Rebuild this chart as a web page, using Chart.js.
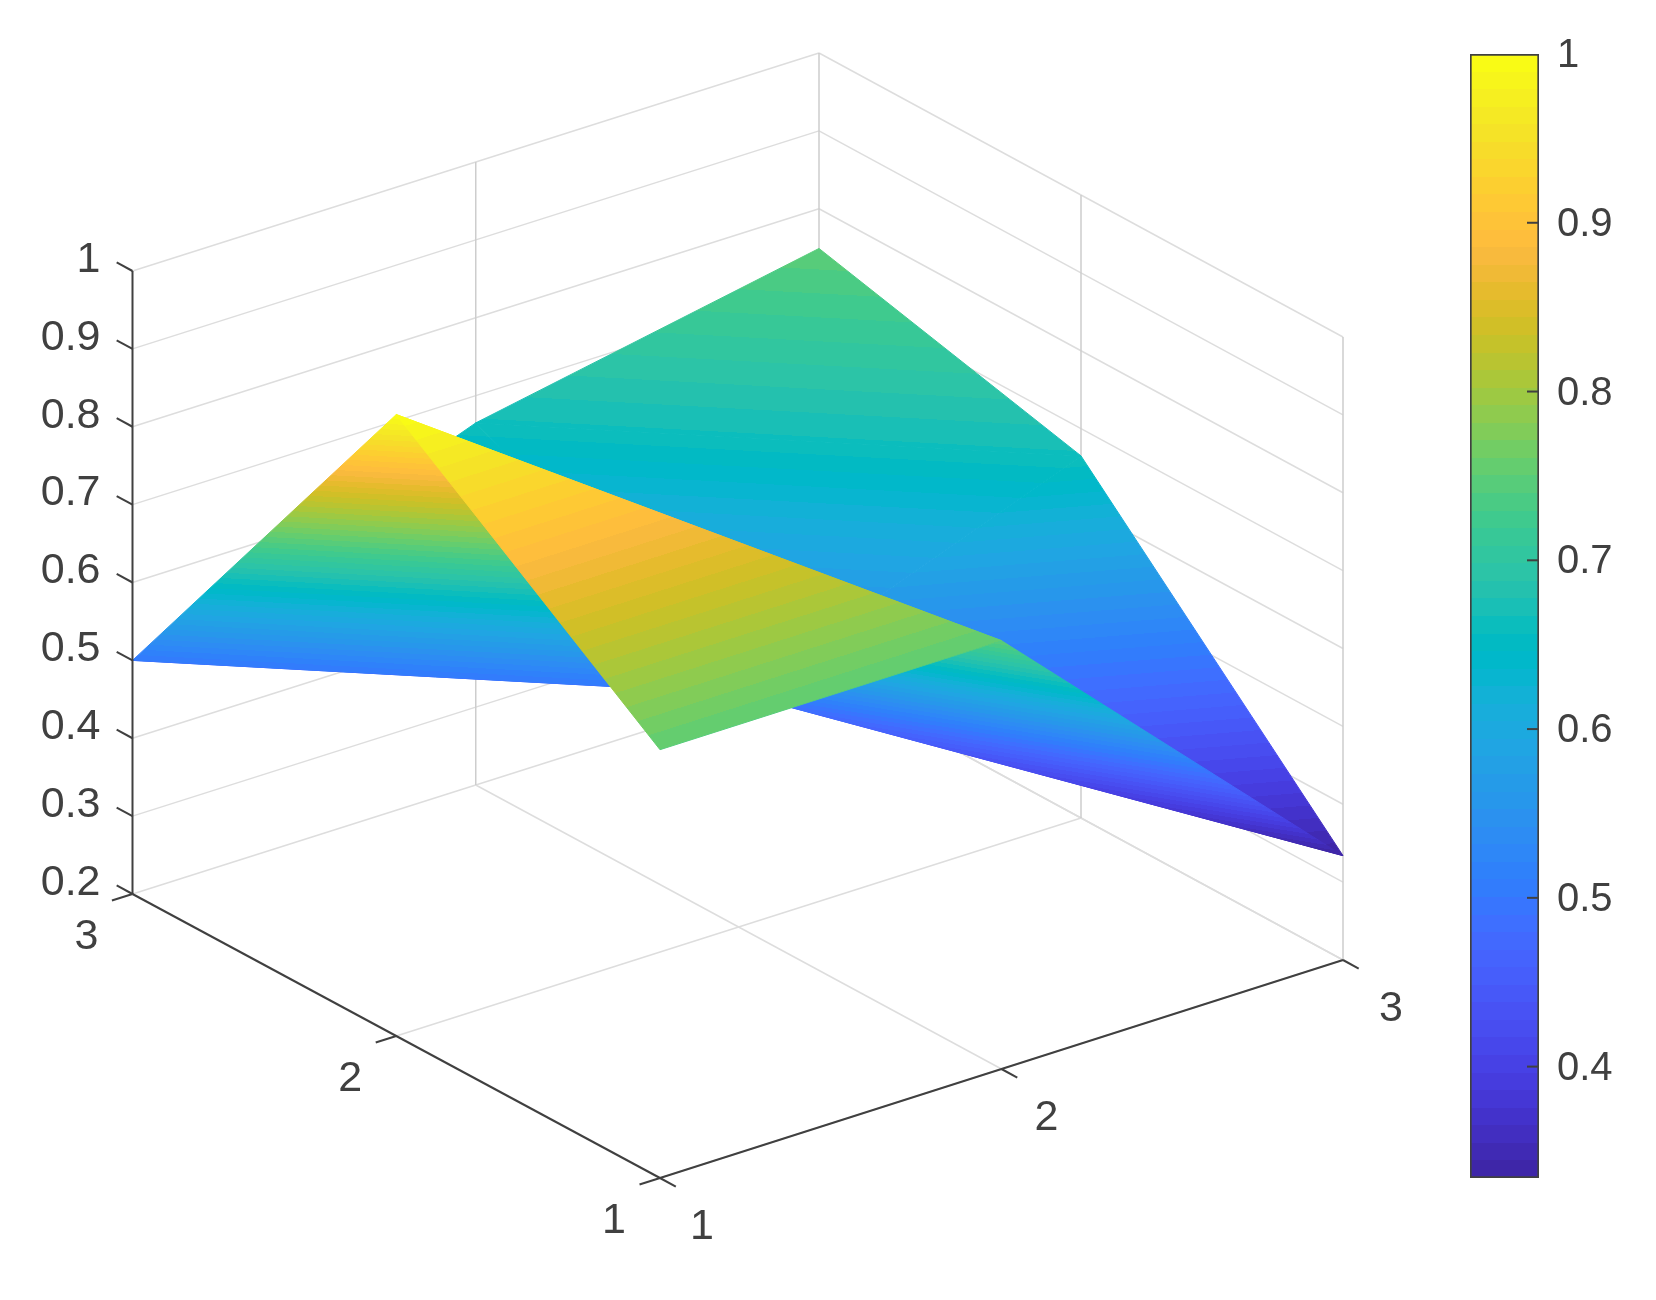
<!DOCTYPE html>
<html>
<head>
<meta charset="utf-8">
<script src="https://cdn.jsdelivr.net/npm/chart.js@4"></script>
<style>
  body { margin: 0; background: #fff; }
  canvas { filter: blur(0.6px); }
  #surface { position: absolute; left: 0; top: 0; }
  #colorbar { position: absolute; left: 1440px; top: 0; }
</style>
</head>
<body>
<canvas id="surface" width="1440" height="1300"></canvas>
<canvas id="colorbar" width="216" height="1300"></canvas>
<script>
// surface values, one row per y, one column per x
const xTicks = [1, 2, 3];
const yTicks = [1, 2, 3];
const zTicks = [0.2, 0.3, 0.4, 0.5, 0.6, 0.7, 0.8, 0.9, 1];
const zRowY1 = [0.75, 0.75, 0.334];
const zRowY2 = [0.998, 0.5, 0.665];
const zRowY3 = [0.5, 0.665, 0.749];
const colorbarTicks = [0.4, 0.5, 0.6, 0.7, 0.8, 0.9, 1];

const zRows = [zRowY1, zRowY2, zRowY3];
const cMin = 0.334;
const cMax = 1;

// mesh triangles as [xIndex, yIndex] corners, back to front
const triangles = [
  [[1, 2], [2, 2], [2, 1]],
  [[1, 2], [2, 1], [1, 1]],
  [[1, 1], [2, 1], [2, 0]],
  [[0, 2], [1, 1], [1, 2]],
  [[0, 2], [0, 1], [1, 1]],
  [[0, 1], [1, 0], [1, 1]],
  [[1, 1], [1, 0], [2, 0]],
  [[0, 1], [0, 0], [1, 0]]
];

const parula = [
  [0.2422,0.1504,0.6603],[0.2504,0.1650,0.7076],[0.2578,0.1818,0.7511],[0.2647,0.1978,0.7952],
  [0.2706,0.2147,0.8364],[0.2751,0.2342,0.8710],[0.2783,0.2559,0.8991],[0.2803,0.2782,0.9221],
  [0.2813,0.3006,0.9414],[0.2810,0.3228,0.9579],[0.2795,0.3447,0.9717],[0.2760,0.3667,0.9829],
  [0.2699,0.3892,0.9906],[0.2602,0.4123,0.9952],[0.2440,0.4358,0.9988],[0.2206,0.4603,0.9973],
  [0.1963,0.4847,0.9892],[0.1834,0.5074,0.9798],[0.1786,0.5289,0.9682],[0.1764,0.5499,0.9520],
  [0.1687,0.5703,0.9359],[0.1540,0.5902,0.9218],[0.1460,0.6091,0.9079],[0.1380,0.6276,0.8973],
  [0.1248,0.6459,0.8883],[0.1113,0.6635,0.8763],[0.0952,0.6798,0.8598],[0.0689,0.6948,0.8394],
  [0.0297,0.7082,0.8163],[0.0036,0.7203,0.7917],[0.0067,0.7312,0.7660],[0.0433,0.7411,0.7394],
  [0.0964,0.7500,0.7120],[0.1408,0.7584,0.6842],[0.1717,0.7670,0.6554],[0.1938,0.7758,0.6251],
  [0.2161,0.7843,0.5923],[0.2470,0.7918,0.5567],[0.2906,0.7973,0.5188],[0.3406,0.8008,0.4789],
  [0.3909,0.8029,0.4354],[0.4456,0.8024,0.3909],[0.5044,0.7993,0.3480],[0.5616,0.7942,0.3045],
  [0.6174,0.7876,0.2612],[0.6720,0.7793,0.2227],[0.7242,0.7698,0.1910],[0.7738,0.7598,0.1646],
  [0.8203,0.7498,0.1535],[0.8634,0.7406,0.1596],[0.9035,0.7330,0.1774],[0.9393,0.7288,0.2100],
  [0.9728,0.7298,0.2394],[0.9956,0.7434,0.2371],[0.9970,0.7659,0.2199],[0.9952,0.7893,0.2028],
  [0.9892,0.8136,0.1885],[0.9786,0.8386,0.1766],[0.9676,0.8639,0.1643],[0.9610,0.8890,0.1537],
  [0.9597,0.9135,0.1423],[0.9628,0.9373,0.1265],[0.9691,0.9606,0.1064],[0.9769,0.9839,0.0805]
];

// view: where the floor corners of the box land, and how tall one z unit is
const floorFront = [660, 1178];
const floorRight = [1343, 960];
const floorLeft = [132.5, 894];
const floorBack = [819, 676];
const zPerUnit = 623 / 0.8;
const tickSize = 0.03;

const textColor = '#404040';
const gridColor = '#dddddd';
const wallColor = '#cdcdcd';
const axisColor = '#404040';
const fontFamily = '"Liberation Sans", Arial, sans-serif';

function project(x, y, z) {
  const u = (x - 1) / 2;
  const v = (y - 1) / 2;
  const px = (1 - u) * (1 - v) * floorFront[0] + u * (1 - v) * floorRight[0] + (1 - u) * v * floorLeft[0] + u * v * floorBack[0];
  const py = (1 - u) * (1 - v) * floorFront[1] + u * (1 - v) * floorRight[1] + (1 - u) * v * floorLeft[1] + u * v * floorBack[1];
  return { x: px, y: py - (z - 0.2) * zPerUnit };
}

function bandColor(i) {
  const c = parula[i];
  return `rgb(${Math.round(c[0] * 255)},${Math.round(c[1] * 255)},${Math.round(c[2] * 255)})`;
}

function addBands(gradient) {
  parula.forEach((c, i) => {
    gradient.addColorStop(i / parula.length, bandColor(i));
    gradient.addColorStop((i + 1) / parula.length, bandColor(i));
  });
  return gradient;
}

// the colour is linear in z, so across one flat triangle it is linear on screen too
function triangleGradient(chart, pts) {
  const sx = chart.scales.x;
  const sy = chart.scales.y;
  const p = pts.map(d => ({ x: sx.getPixelForValue(d.x), y: sy.getPixelForValue(d.y), z: d.z }));
  const ax = p[1].x - p[0].x, ay = p[1].y - p[0].y, az = p[1].z - p[0].z;
  const bx = p[2].x - p[0].x, by = p[2].y - p[0].y, bz = p[2].z - p[0].z;
  const det = ax * by - ay * bx;
  const gx = (az * by - ay * bz) / det;
  const gy = (ax * bz - az * bx) / det;
  const len = gx * gx + gy * gy;
  const t0 = (cMin - p[0].z) / len;
  const t1 = (cMax - p[0].z) / len;
  return addBands(chart.ctx.createLinearGradient(p[0].x + gx * t0, p[0].y + gy * t0, p[0].x + gx * t1, p[0].y + gy * t1));
}

function lineSet(from, to, color, width) {
  return {
    data: [project(from[0], from[1], from[2]), project(to[0], to[1], to[2])],
    showLine: true,
    borderColor: color,
    borderWidth: width,
    pointRadius: 0,
    fill: false
  };
}

function triangleSet(tri) {
  const pts = tri.map(c => {
    const z = zRows[c[1]][c[0]];
    const p = project(xTicks[c[0]], yTicks[c[1]], z);
    return { x: p.x, y: p.y, z: z };
  });
  let gradient = null;
  const paint = ctx => {
    // scales have no pixels until the first layout is done
    if (!ctx.chart.chartArea) return 'transparent';
    return gradient || (gradient = triangleGradient(ctx.chart, pts));
  };
  return {
    data: pts.concat([pts[0]]),
    showLine: true,
    fill: 'shape',
    backgroundColor: paint,
    borderColor: paint,
    borderWidth: 1,
    pointRadius: 0,
    tension: 0
  };
}

const zLow = zTicks[0];
const zHigh = zTicks[zTicks.length - 1];
const xLast = xTicks[xTicks.length - 1];
const yLast = yTicks[yTicks.length - 1];
const xFirst = xTicks[0];
const yFirst = yTicks[0];

// back to front; the list is reversed below as Chart.js paints the first dataset last
const layers = [];

zTicks.forEach(z => {
  layers.push(lineSet([xFirst, yLast, z], [xLast, yLast, z], gridColor, 1.5));
  layers.push(lineSet([xLast, yLast, z], [xLast, yFirst, z], gridColor, 1.5));
});
xTicks.slice(1).forEach(x => {
  layers.push(lineSet([x, yFirst, zLow], [x, yLast, zLow], gridColor, 1.5));
  layers.push(lineSet([x, yLast, zLow], [x, yLast, zHigh], wallColor, 1.5));
});
yTicks.slice(0, -1).forEach(y => {
  layers.push(lineSet([xFirst, y, zLow], [xLast, y, zLow], gridColor, 1.5));
  layers.push(lineSet([xLast, y, zLow], [xLast, y, zHigh], wallColor, 1.5));
});

triangles.forEach(tri => layers.push(triangleSet(tri)));

// axis lines and their ticks
layers.push(lineSet([xFirst, yFirst, zLow], [xLast, yFirst, zLow], axisColor, 2));
layers.push(lineSet([xFirst, yFirst, zLow], [xFirst, yLast, zLow], axisColor, 2));
layers.push(lineSet([xFirst, yLast, zLow], [xFirst, yLast, zHigh], axisColor, 2));
const xSpan = xLast - xFirst;
const ySpan = yLast - yFirst;
xTicks.forEach(x => {
  layers.push(lineSet([x, yFirst, zLow], [x, yFirst - tickSize * ySpan, zLow], axisColor, 2));
});
yTicks.forEach(y => {
  layers.push(lineSet([xFirst, y, zLow], [xFirst - tickSize * xSpan, y, zLow], axisColor, 2));
});
zTicks.forEach(z => {
  layers.push(lineSet([xFirst, yLast, z], [xFirst, yLast + tickSize * ySpan, z], axisColor, 2));
});

const tickLabels = {
  id: 'tickLabels',
  afterDatasetsDraw(chart) {
    const c = chart.ctx;
    const sx = chart.scales.x;
    const sy = chart.scales.y;
    c.save();
    c.fillStyle = textColor;
    c.font = '43px ' + fontFamily;
    c.textBaseline = 'middle';
    c.textAlign = 'center';
    xTicks.forEach(x => {
      const p = project(x, yFirst, zLow);
      c.fillText(String(x), sx.getPixelForValue(p.x) + 42 + 3 * (x - xFirst), sy.getPixelForValue(p.y) + 49);
    });
    yTicks.forEach(y => {
      const p = project(xFirst, y, zLow);
      c.fillText(String(y), sx.getPixelForValue(p.x) - 46, sy.getPixelForValue(p.y) + 43);
    });
    c.textAlign = 'right';
    zTicks.forEach(z => {
      const p = project(xFirst, yLast, z);
      c.fillText(String(z), sx.getPixelForValue(p.x) - 32, sy.getPixelForValue(p.y) - 11);
    });
    c.restore();
  }
};

new Chart(document.getElementById('surface').getContext('2d'), {
  type: 'scatter',
  data: { datasets: layers.slice().reverse() },
  options: {
    responsive: false,
    animation: false,
    layout: { padding: 0 },
    scales: {
      x: { type: 'linear', display: false, min: 0, max: 1440 },
      y: { type: 'linear', display: false, min: 0, max: 1300, reverse: true }
    },
    plugins: { legend: { display: false }, tooltip: { enabled: false } }
  },
  plugins: [tickLabels]
});

const colorbarTickMarks = {
  id: 'colorbarTickMarks',
  afterDatasetsDraw(chart) {
    const c = chart.ctx;
    const right = chart.chartArea.right;
    c.save();
    c.strokeStyle = axisColor;
    c.lineWidth = 2;
    // the tick at the very top sits on the bar's own border
    colorbarTicks.filter(v => v < cMax).forEach(v => {
      const py = chart.scales.y.getPixelForValue(v);
      c.beginPath();
      c.moveTo(right - 12, py);
      c.lineTo(right, py);
      c.stroke();
    });
    c.restore();
  }
};

new Chart(document.getElementById('colorbar').getContext('2d'), {
  type: 'bar',
  data: {
    labels: [''],
    datasets: [{
      data: [[cMin, cMax]],
      backgroundColor: ctx => {
        if (!ctx.chart.chartArea) return 'transparent';
        const s = ctx.chart.scales.y;
        return addBands(ctx.chart.ctx.createLinearGradient(0, s.getPixelForValue(cMin), 0, s.getPixelForValue(cMax)));
      },
      borderColor: axisColor,
      borderWidth: 2,
      borderSkipped: false,
      barPercentage: 1,
      categoryPercentage: 1
    }]
  },
  options: {
    responsive: false,
    animation: false,
    layout: { padding: { left: 30, top: 54, bottom: 122, right: 0 } },
    scales: {
      x: { display: false },
      y: {
        position: 'right',
        min: cMin,
        max: cMax,
        border: { display: false },
        grid: { display: false },
        afterBuildTicks: axis => { axis.ticks = colorbarTicks.map(v => ({ value: v })); },
        afterFit: axis => { axis.width = 117; },
        ticks: {
          color: textColor,
          padding: 10,
          labelOffset: 2,
          font: { family: fontFamily, size: 40 },
          callback: v => String(v)
        }
      }
    },
    plugins: { legend: { display: false }, tooltip: { enabled: false } }
  },
  plugins: [colorbarTickMarks]
});
</script>
</body>
</html>
